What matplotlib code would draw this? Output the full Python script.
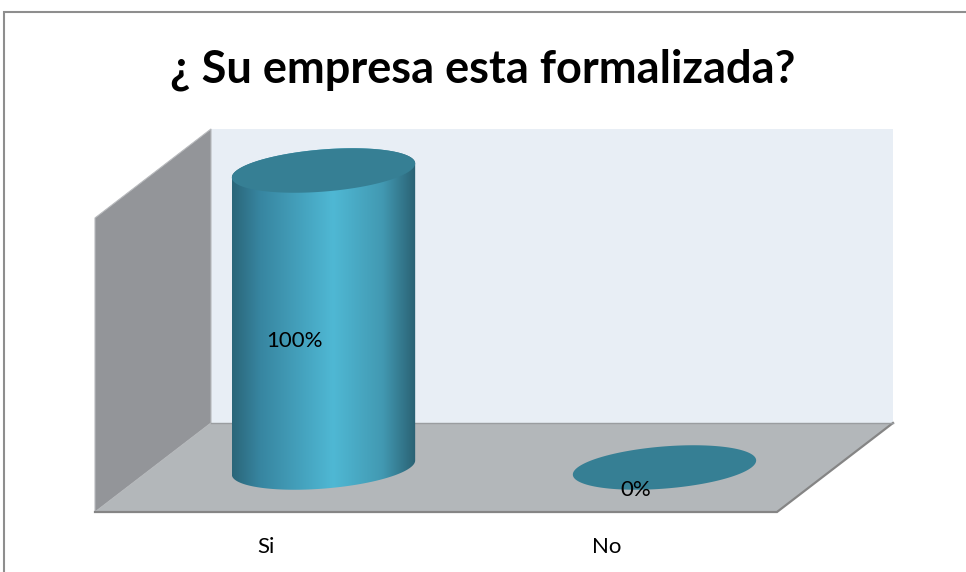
import numpy as np
import matplotlib
matplotlib.use("Agg")
import matplotlib.pyplot as plt
from matplotlib.patches import Polygon, Rectangle
from matplotlib.colors import LinearSegmentedColormap

# ---- data ----
categories = ["Si", "No"]
values = [1.00, 0.00]
value_labels = ["100%", "0%"]
title = "¿ Su empresa esta formalizada?"

# ---- figure / projection setup ----
fig = plt.figure(figsize=(9.66, 5.72), dpi=100)
ax = fig.add_axes([0, 0, 1, 1])
XLIM = (-0.7786, 2.0543)
YLIM = (-0.2020, 1.7239)
KX, KY = 0.3402, 0.2997  # oblique depth offset (full depth)


def proj(x, y, d):
    return x + d * KX, y + d * KY


x0, x1 = -0.5, len(categories) - 0.5
wall_top = 0.99

back = Polygon([proj(x0, 0, 1), proj(x1, 0, 1), proj(x1, wall_top, 1), proj(x0, wall_top, 1)],
               closed=True, fc='#e8eef5', ec='none', zorder=1)
side = Polygon([proj(x0, 0, 0), proj(x0, 0, 1), proj(x0, wall_top, 1), proj(x0, wall_top, 0)],
               closed=True, fc='#939599', ec='#b8babd', lw=0.8, zorder=2)
floor = Polygon([proj(x0, 0, 0), proj(x1, 0, 0), proj(x1, 0, 1), proj(x0, 0, 1)],
                closed=True, fc='#b3b7ba', ec='none', zorder=2)
for p in (back, side, floor):
    ax.add_patch(p)

# floor edges
fx, fy = zip(proj(x0, 0, 0), proj(x1, 0, 0), proj(x1, 0, 1))
ax.plot(fx, fy, color='#858585', lw=1.6, zorder=3, solid_joinstyle='miter')
bx, by = zip(proj(x0, 0, 1), proj(x1, 0, 1))
ax.plot(bx, by, color='#9a9da0', lw=1.0, zorder=3)

# ---- cylinders ----
R = 0.255   # half width (x units)
RD = 0.25   # depth radius (fraction of depth)
cmap = LinearSegmentedColormap.from_list(
    'cyl', [(0.0, '#2b6679'), (0.15, '#3785a0'), (0.55, '#4fb8d4'),
            (0.82, '#4299b2'), (1.0, '#2a6173')])
top_color = '#367f94'

t_r = np.arctan2(RD * KX, R)
t_l = t_r + np.pi


def ellipse(cx, y, t):
    ex = cx + R * np.cos(t)
    ed = 0.5 + RD * np.sin(t)
    return ex + ed * KX, y + ed * KY


for i, v in enumerate(values):
    tf = np.linspace(t_l, t_r + 2 * np.pi, 200)
    tb = np.linspace(t_r, t_l, 200)
    bxs, bys = ellipse(i, 0, tf)
    txs, tys = ellipse(i, v, tb)
    if v > 0:
        body_xy = np.column_stack([np.concatenate([bxs, txs]), np.concatenate([bys, tys])])
        body = Polygon(body_xy, closed=True, fc='none', ec='none')
        ax.add_patch(body)
        grad = np.linspace(0, 1, 256).reshape(1, -1)
        im = ax.imshow(grad, cmap=cmap, aspect='auto', interpolation='bilinear',
                       extent=(body_xy[:, 0].min(), body_xy[:, 0].max(),
                               body_xy[:, 1].min(), body_xy[:, 1].max()),
                       zorder=4)
        im.set_clip_path(body)
    ta = np.linspace(0, 2 * np.pi, 400)
    exs, eys = ellipse(i, v, ta)
    ax.add_patch(Polygon(np.column_stack([exs, eys]), closed=True,
                         fc=top_color, ec='none', zorder=5))
    # data label
    lx, ly = proj(i, v / 2, 0.5 - RD)
    ax.text(lx, ly, value_labels[i], ha='center', va='center', fontsize=16,
            family='Lato', color='black', zorder=6)
    # category label
    cx, cy = proj(i, 0, 0)
    ax.annotate(categories[i], (cx, cy), xytext=(0, -35), textcoords='offset pixels',
                ha='center', va='center', fontsize=16, family='Lato', color='black')

ax.set_xlim(*XLIM)
ax.set_ylim(*YLIM)
ax.axis('off')

# title
fig.text(0.5, 1 - 70 / 572, title, ha='center', va='center', fontsize=32.5,
         fontweight='bold', family='Lato')

# chart frame
fig.patches.append(Rectangle((4 / 966, -0.2), 1.2, 1 - 12 / 572 + 0.2,
                             transform=fig.transFigure, fill=False,
                             ec='#8e8e8e', lw=1.5))

fig.savefig('out.png', dpi=100)
